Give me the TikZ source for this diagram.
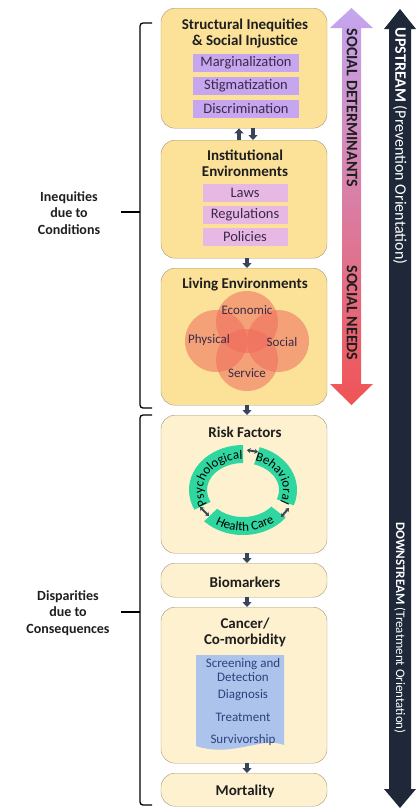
\documentclass[tikz,border=0pt]{standalone}
\usepackage{fontspec}
\setmainfont{Carlito}
\usetikzlibrary{arrows.meta,decorations.text}

\definecolor{boxY}{RGB}{251,226,152}
\definecolor{boxC}{RGB}{253,241,208}
\definecolor{boxL}{RGB}{168,150,118}
\definecolor{pur}{RGB}{199,166,240}
\definecolor{pnk}{RGB}{232,184,228}
\definecolor{itemT}{RGB}{58,42,72}
\definecolor{venn}{RGB}{240,108,92}
\definecolor{grn}{RGB}{48,214,160}
\definecolor{blu}{RGB}{172,196,235}
\definecolor{bluT}{RGB}{45,66,125}
\definecolor{navy}{RGB}{30,40,56}
\definecolor{slate}{RGB}{55,68,90}
\definecolor{lav}{RGB}{196,166,240}
\definecolor{pinkM}{RGB}{242,186,214}
\definecolor{redA}{RGB}{240,84,84}
\definecolor{titleT}{RGB}{30,30,30}

\tikzset{
  ybox/.style={draw=boxL, fill=boxY, rounded corners=14pt, minimum width=166pt, anchor=north, inner sep=0pt},
  cbox/.style={ybox, fill=boxC},
  ttl/.style={font=\fontsize{15}{16.5}\selectfont\bfseries, align=center, text=titleT},
  pbox/.style={fill=pur, minimum width=106pt, minimum height=18pt, inner sep=0pt, font=\fontsize{14.5}{15}\selectfont, text=itemT},
  qbox/.style={pbox, fill=pnk, minimum width=85pt},
  vlab/.style={font=\fontsize{13}{15}\selectfont, text=itemT},
  blab/.style={font=\fontsize{13}{14}\selectfont, align=center, text=bluT},
  flow/.style={draw=slate, line width=3.5pt, -{Triangle[width=9pt,length=5pt]}},
  swap/.style={draw=slate, line width=2pt, {Stealth[length=3.5pt,width=5pt]}-{Stealth[length=3.5pt,width=5pt]}},
  brace/.style={draw=black, line width=1.3pt, rounded corners=3pt},
  side/.style={font=\fontsize{14}{16.5}\selectfont\bfseries, align=center, text=titleT}
}

\begin{document}
\begin{tikzpicture}[x=1pt,y=1pt]
\useasboundingbox (0,0) rectangle (416,-809);
%左
\draw[brace] (152,-23) -- (140,-23) -- (140,-408) -- (152,-408);
\draw[brace] (140,-212) -- (121,-212);
\node[side] (C1) at (69,-213) {Inequities\\due to\\Conditions};
\draw[brace] (152,-415) -- (140,-415) -- (140,-805) -- (152,-805);
\draw[brace] (140,-612) -- (121,-612);
\node[side] (C2) at (68,-613) {Disparities\\due to\\Consequences};
%中
\node[ybox, minimum height=120pt] (B1) at (244,-8) {};
\node[ttl] (T1) at (245,-33.5) {Structural Inequities\\\& Social Injustice};
\node[pbox] (P1) at (246,-63) {Marginalization};
\node[pbox] (P2) at (246,-86) {Stigmatization};
\node[pbox] (P3) at (246,-109) {Discrimination};

\node[ybox, minimum height=118pt] (B2) at (244,-140) {};
\node[ttl] (T2) at (245,-163.5) {Institutional\\Environments};
\node[qbox] (Q1) at (245,-193) {Laws};
\node[qbox] (Q2) at (245,-215) {Regulations};
\node[qbox] (Q3) at (245,-237) {Policies};

\node[ybox, minimum height=137pt] (B3) at (244,-268) {};
\node[ttl] (T3) at (245,-285) {Living Environments};
\begin{scope}
\fill[venn, fill opacity=.55] (247,-322) circle (31);
\fill[venn, fill opacity=.55] (216,-341) circle (31);
\fill[venn, fill opacity=.55] (278,-341) circle (31);
\fill[venn, fill opacity=.55] (247,-360) circle (31);
\end{scope}
\node[vlab] (V1) at (247,-310) {Economic};
\node[vlab] (V2) at (209,-340) {Physical};
\node[vlab] (V3) at (282,-342) {Social};
\node[vlab] (V4) at (247,-373) {Service};

\node[cbox, minimum height=138pt] (B4) at (244,-415) {};
\node[ttl] (T4) at (245,-432) {Risk Factors};
\coordinate (RC) at (243,-490);
\fill[grn] (RC) ++(90:54 and 45) arc[start angle=90, end angle=206, x radius=54, y radius=45]
  -- ([shift={(206:36 and 27)}]RC) arc[start angle=206, end angle=90, x radius=36, y radius=27] -- cycle;
\fill[grn] (RC) ++(72:54 and 45) arc[start angle=72, end angle=-20, x radius=54, y radius=45]
  -- ([shift={(-20:36 and 27)}]RC) arc[start angle=-20, end angle=72, x radius=36, y radius=27] -- cycle;
\fill[grn] (RC) ++(224:54 and 45) arc[start angle=224, end angle=322, x radius=54, y radius=45]
  -- ([shift={(322:36 and 27)}]RC) arc[start angle=322, end angle=224, x radius=36, y radius=27] -- cycle;
\path[decorate, decoration={text along path, text align=center, text={|\fontsize{13}{13}\selectfont|Psychological}}]
  (RC) ++(208:40 and 31) arc[start angle=208, end angle=90, x radius=40, y radius=31];
\path[decorate, decoration={text along path, text align=center, text={|\fontsize{13}{13}\selectfont|Behavioral}}]
  (RC) ++(74:40 and 31) arc[start angle=74, end angle=-24, x radius=40, y radius=31];
\path[decorate, decoration={text along path, text align=center, text={|\fontsize{13}{13}\selectfont|Health Care}}]
  (RC) ++(220:50 and 41) arc[start angle=220, end angle=326, x radius=50, y radius=41];
\coordinate (G1) at (247,-450);
\coordinate (G2) at (258,-452);
\coordinate (G3) at (200,-507);
\coordinate (G4) at (209,-516);
\coordinate (G5) at (281,-517);
\coordinate (G6) at (289,-508);
\draw[swap] (G1) -- (G2);
\draw[swap] (G3) -- (G4);
\draw[swap] (G5) -- (G6);

\node[cbox, minimum height=34pt] (B5) at (244,-563) {};
\node[ttl] (T5) at (245,-582) {Biomarkers};

\node[cbox, minimum height=156pt] (B6) at (244,-607) {};
\node[ttl] (T6) at (245,-632.5) {Cancer/\\Co-morbidity};
\fill[blu] (196,-655) -- (284,-655) -- (284,-745) .. controls (262,-736) and (232,-758) .. (196,-746) -- cycle;
\node[blab] (D1) at (243,-670) {Screening and\\Detection};
\node[blab] (D2) at (243,-695) {Diagnosis};
\node[blab] (D3) at (243,-717) {Treatment};
\node[blab] (D4) at (243,-740) {Survivorship};

\node[cbox, minimum height=33pt] (B7) at (244,-773) {};
\node[ttl] (T7) at (245,-791) {Mortality};

\draw[flow] ([xshift=-5pt]B2.north) -- ([xshift=-5pt]B1.south);
\draw[flow] ([xshift=9pt]B1.south) -- ([xshift=9pt]B2.north);
\draw[flow] ([xshift=3pt]B2.south) -- ([xshift=3pt]B3.north);
\draw[flow] ([xshift=3pt]B3.south) -- ([xshift=3pt]B4.north);
\draw[flow] ([xshift=3pt]B4.south) -- ([xshift=3pt]B5.north);
\draw[flow] ([xshift=3pt]B5.south) -- ([xshift=3pt]B6.north);
\draw[flow] ([xshift=3pt]B6.south) -- ([xshift=3pt]B7.north);
%右
\shade[top color=lav, middle color=pinkM, bottom color=redA]
  (351.5,-8) -- (373,-28) -- (361,-28) -- (361,-384) -- (373,-384) -- (351.5,-405)
  -- (330,-384) -- (342,-384) -- (342,-28) -- (330,-28) -- cycle;
\node[rotate=-90, font=\fontsize{16}{16}\selectfont\bfseries, text=titleT] (R1) at (352,-108) {SOCIAL DETERMINANTS};
\node[rotate=-90, font=\fontsize{16}{16}\selectfont\bfseries, text=titleT] (R2) at (352,-313) {SOCIAL NEEDS};
\fill[navy] (400,-9) -- (416,-29) -- (411,-29) -- (411,-789) -- (416,-789) -- (400,-808)
  -- (384,-789) -- (389,-789) -- (389,-29) -- (384,-29) -- cycle;
\node[rotate=-90, font=\fontsize{16}{16}\selectfont, text=white] (U1) at (400,-146) {\textbf{UPSTREAM} (Prevention Orientation)};
\node[rotate=-90, font=\fontsize{13}{15}\selectfont, text=white] (U2) at (400,-628) {\textbf{DOWNSTREAM} (Treatment Orientation)};
\end{tikzpicture}
\end{document}
